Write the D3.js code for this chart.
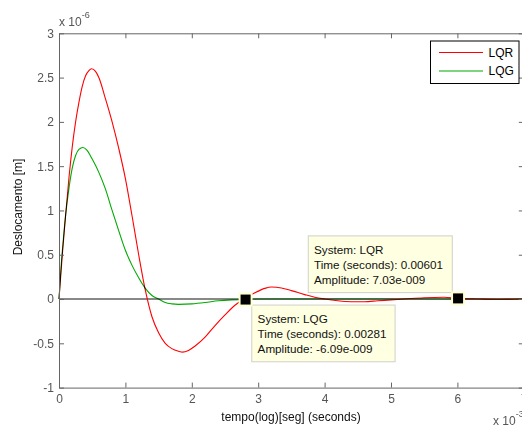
<!DOCTYPE html>
<html>
<head>
<meta charset="utf-8">
<script src="https://cdn.jsdelivr.net/npm/d3@7"></script>
<style>
  body { margin: 0; background: #fff; }
  svg { font-family: "Liberation Sans", Arial, sans-serif; }
</style>
</head>
<body>
<svg id="chart" width="522" height="428"></svg>
<script>
// time in units of 1e-3 s, amplitude in units of 1e-6 m
var timeLQR = [0, 0.05, 0.1, 0.15, 0.2, 0.25, 0.3, 0.35, 0.4, 0.45, 0.49, 0.55, 0.6, 0.7, 0.8, 0.9, 1.0, 1.1, 1.2, 1.3, 1.4, 1.5, 1.6, 1.7, 1.8, 1.86, 1.95, 2.05, 2.2, 2.35, 2.5, 2.65, 2.8, 2.95, 3.1, 3.2, 3.35, 3.5, 3.7, 3.85, 4.0, 4.2, 4.4, 4.6, 4.8, 5.0, 5.2, 5.5, 5.8, 6.01, 6.3, 6.6, 7.0];
var ampLQR = [0, 0.5, 0.95, 1.37, 1.72, 2.0, 2.22, 2.4, 2.52, 2.58, 2.6, 2.57, 2.5, 2.26, 2.0, 1.7, 1.36, 0.94, 0.5, 0.1, -0.2, -0.38, -0.5, -0.56, -0.59, -0.6, -0.58, -0.53, -0.43, -0.3, -0.18, -0.07, 0.005, 0.07, 0.12, 0.135, 0.125, 0.095, 0.05, 0.02, 0.0, -0.02, -0.03, -0.03, -0.02, -0.01, 0.0, 0.015, 0.02, 0.007, 0.0, -0.005, 0];

var timeLQG = [0, 0.03, 0.065, 0.1, 0.15, 0.2, 0.25, 0.3, 0.36, 0.42, 0.5, 0.6, 0.7, 0.8, 0.9, 1.0, 1.1, 1.2, 1.3, 1.4, 1.5, 1.6, 1.7, 1.8, 2.0, 2.2, 2.4, 2.6, 2.81, 3.0, 4.0, 5.0, 6.0, 7.0];
var ampLQG = [0, 0.35, 0.67, 0.95, 1.25, 1.48, 1.62, 1.69, 1.71, 1.68, 1.58, 1.43, 1.24, 1.0, 0.77, 0.55, 0.38, 0.24, 0.12, 0.04, 0.0, -0.04, -0.055, -0.06, -0.055, -0.04, -0.02, -0.01, -0.006, 0, 0, 0, 0, 0];

var seriesNames = ["LQR", "LQG"];
var seriesColors = ["#ff0000", "#00aa00"];

var xTicks = [0, 1, 2, 3, 4, 5, 6, 7];
var yTicks = [-1, -0.5, 0, 0.5, 1, 1.5, 2, 2.5, 3];

// data tips
var tipSystems = ["LQR", "LQG"];
var tipTimes = ["0.00601", "0.00281"];
var tipAmps = ["7.03e-009", "-6.09e-009"];
var tipX = [6.01, 2.81];
var tipY = [0.00703, -0.00609];

var svg = d3.select("#chart");
var plotLeft = 59, plotTop = 33.3, plotRight = 523.8, plotBottom = 387.6;

var x = d3.scaleLinear().domain([0, 7]).range([plotLeft, plotRight]);
var y = d3.scaleLinear().domain([-1, 3]).range([plotBottom, plotTop]);

var axisColor = "#666";
var labelColor = "#555";

function styleAxis(g) {
  g.select(".domain").attr("stroke", axisColor);
  g.selectAll(".tick line").attr("stroke", axisColor);
  g.selectAll(".tick text").attr("fill", labelColor).attr("font-size", 12)
    .attr("font-family", "Liberation Sans, Arial, sans-serif");
}

// zero line
svg.append("line")
  .attr("x1", x(0)).attr("x2", x(7))
  .attr("y1", y(0)).attr("y2", y(0))
  .attr("stroke", "#888").attr("stroke-width", 2);

// curves
var line = d3.line().curve(d3.curveMonotoneX)
  .x(function(d) { return x(d[0]); })
  .y(function(d) { return y(d[1]); });

var dataLQR = timeLQR.map(function(t, i) { return [t, ampLQR[i]]; });
var dataLQG = timeLQG.map(function(t, i) { return [t, ampLQG[i]]; });

svg.append("path").datum(dataLQR)
  .attr("d", line).attr("fill", "none")
  .attr("stroke", seriesColors[0]).attr("stroke-width", 1.1);

svg.append("path").datum(dataLQG)
  .attr("d", line).attr("fill", "none")
  .attr("stroke", seriesColors[1]).attr("stroke-width", 1.1)
  .style("mix-blend-mode", "multiply");

// axes box
svg.append("g").attr("transform", "translate(0," + plotBottom + ")")
  .call(d3.axisBottom(x).tickValues(xTicks).tickSizeInner(-5).tickSizeOuter(0).tickPadding(7).tickFormat(d3.format("d")))
  .call(styleAxis);
svg.append("g").attr("transform", "translate(0," + plotTop + ")")
  .call(d3.axisTop(x).tickValues(xTicks).tickSizeInner(-5).tickSizeOuter(0).tickFormat(""))
  .call(styleAxis);
svg.append("g").attr("transform", "translate(" + plotLeft + ",0)")
  .call(d3.axisLeft(y).tickValues(yTicks).tickSizeInner(-5).tickSizeOuter(0).tickPadding(5).tickFormat(function(d) { return String(d); }))
  .call(styleAxis);
svg.append("g").attr("transform", "translate(" + plotRight + ",0)")
  .call(d3.axisRight(y).tickValues(yTicks).tickSizeInner(-5).tickSizeOuter(0).tickFormat(""))
  .call(styleAxis);

// exponent labels
var exp1 = svg.append("text").attr("x", 59).attr("y", 26).attr("font-size", 12).attr("fill", labelColor);
exp1.append("tspan").text("x 10");
exp1.append("tspan").attr("dy", -8).attr("font-size", 9).text("-6");

var exp2 = svg.append("text").attr("x", 493).attr("y", 425).attr("font-size", 12).attr("fill", labelColor);
exp2.append("tspan").text("x 10");
exp2.append("tspan").attr("dy", -8).attr("font-size", 9).text("-3");

// axis titles
svg.append("text")
  .attr("x", 291).attr("y", 421)
  .attr("text-anchor", "middle").attr("font-size", 12).attr("fill", "#111")
  .text("tempo(log)[seg] (seconds)");

svg.append("text")
  .attr("transform", "translate(22,207) rotate(-90)")
  .attr("text-anchor", "middle").attr("font-size", 12).attr("fill", "#111")
  .text("Deslocamento [m]");

// legend
var legend = svg.append("g").attr("transform", "translate(430.5,41)");
legend.append("rect").attr("width", 88.5).attr("height", 42.5)
  .attr("fill", "#fff").attr("stroke", "#000").attr("stroke-width", 1);
seriesNames.forEach(function(name, i) {
  var ly = 11.5 + i * 18.5;
  legend.append("line").attr("x1", 8.5).attr("x2", 52.5).attr("y1", ly).attr("y2", ly)
    .attr("stroke", seriesColors[i]).attr("stroke-width", 1.1);
  legend.append("text").attr("x", 58).attr("y", ly + 4.3)
    .attr("font-size", 12).attr("fill", "#000").text(name);
});

// data tips
var tipBoxes = [
  { dx: -150.3, dy: -63, w: 144, h: 56.7 },
  { dx: 5.7, dy: 5, w: 143.3, h: 56.7 }
];
tipSystems.forEach(function(sys, i) {
  var mx = x(tipX[i]), my = y(tipY[i]);
  var b = tipBoxes[i];
  var g = svg.append("g").attr("transform", "translate(" + (mx + b.dx) + "," + (my + b.dy) + ")");
  g.append("rect").attr("x", 0.5).attr("y", 0.5).attr("width", b.w).attr("height", b.h)
    .attr("fill", "#ffffe1").attr("stroke", "#d0d0c8").attr("stroke-width", 1);
  var lines = ["System: " + sys, "Time (seconds): " + tipTimes[i], "Amplitude: " + tipAmps[i]];
  lines.forEach(function(t, j) {
    g.append("text").attr("x", 6.3).attr("y", 18.5 + j * 15)
      .attr("font-size", 11.7).attr("fill", "#111").text(t);
  });
  svg.append("rect")
    .attr("x", mx - 6).attr("y", my - 6).attr("width", 12).attr("height", 12)
    .attr("fill", "#000").attr("stroke", "#ffffd0").attr("stroke-width", 2);
});
</script>
</body>
</html>
